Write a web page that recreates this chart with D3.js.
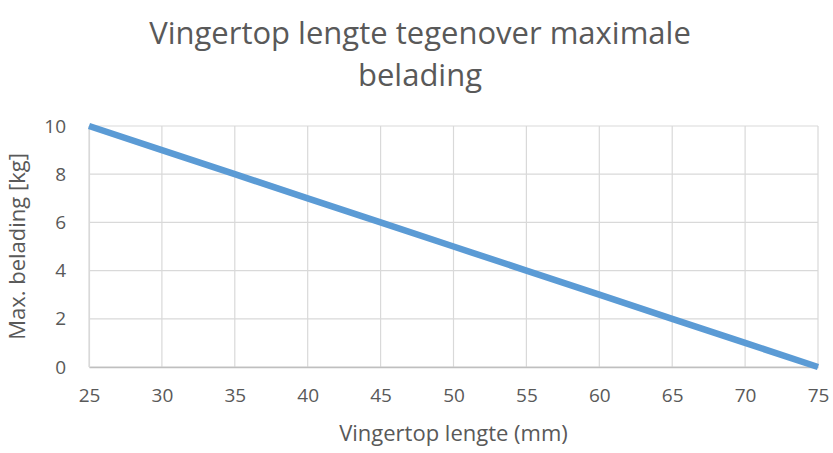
<!DOCTYPE html>
<html>
<head>
<meta charset="utf-8">
<script src="https://cdn.jsdelivr.net/npm/d3@7"></script>
<style>
  body { margin: 0; background: #fff; }
  text { font-family: "Open Sans", "Liberation Sans", sans-serif; fill: #595959; }
</style>
</head>
<body>
<svg id="chart" width="833" height="453"></svg>
<script>
// data
var lengths = [25, 30, 35, 40, 45, 50, 55, 60, 65, 70, 75];
var loads = [10, 9, 8, 7, 6, 5, 4, 3, 2, 1, 0];
var xTicks = [25, 30, 35, 40, 45, 50, 55, 60, 65, 70, 75];
var yTicks = [0, 2, 4, 6, 8, 10];

var data = lengths.map((d, i) => ({x: d, y: loads[i]}));

var svg = d3.select("#chart"),
  margin = {top: 126, right: 15, bottom: 86, left: 89},
  width = +svg.attr("width"),
  height = +svg.attr("height");

var x = d3.scaleLinear()
  .domain([25, 75])
  .range([margin.left, width - margin.right]);

var y = d3.scaleLinear()
  .domain([0, 10])
  .range([height - margin.bottom, margin.top]);

// title
svg.append("text")
  .attr("x", 420).attr("y", 44)
  .attr("text-anchor", "middle")
  .style("font-size", "31px")
  .text("Vingertop lengte tegenover maximale");
svg.append("text")
  .attr("x", 420).attr("y", 86)
  .attr("text-anchor", "middle")
  .style("font-size", "31px")
  .text("belading");

// gridlines
svg.append("g")
  .selectAll("line")
  .data(yTicks)
  .join("line")
  .attr("x1", x(25)).attr("x2", x(75))
  .attr("y1", d => y(d)).attr("y2", d => y(d))
  .attr("stroke", "#d9d9d9").attr("stroke-width", 1.2);

svg.append("g")
  .selectAll("line")
  .data(xTicks)
  .join("line")
  .attr("x1", d => x(d)).attr("x2", d => x(d))
  .attr("y1", y(0)).attr("y2", y(10))
  .attr("stroke", "#d9d9d9").attr("stroke-width", 1.2);

// axes
var xAxis = svg.append("g")
  .attr("transform", "translate(0," + y(0) + ")")
  .call(d3.axisBottom(x).tickValues(xTicks).tickSize(0).tickPadding(22));
xAxis.select(".domain").attr("stroke", "#bfbfbf").attr("stroke-width", 1.5);
xAxis.selectAll("text").style("font-size", "19px").attr("fill", "#595959");

var yAxis = svg.append("g")
  .attr("transform", "translate(" + x(25) + ",0)")
  .call(d3.axisLeft(y).tickValues(yTicks).tickSize(0).tickPadding(23));
yAxis.select(".domain").attr("stroke", "#d9d9d9").attr("stroke-width", 1.2);
yAxis.selectAll("text").style("font-size", "19px").attr("fill", "#595959");

// axis titles
svg.append("text")
  .attr("x", x(50)).attr("y", 441)
  .attr("text-anchor", "middle")
  .style("font-size", "22px")
  .text("Vingertop lengte (mm)");

svg.append("text")
  .attr("transform", "translate(25," + y(5) + ") rotate(-90)")
  .attr("text-anchor", "middle")
  .style("font-size", "22px")
  .text("Max. belading [kg]");

// line
svg.append("path")
  .datum(data)
  .attr("fill", "none")
  .attr("stroke", "#5b9bd5")
  .attr("stroke-width", 6.5)
  .attr("d", d3.line().x(d => x(d.x)).y(d => y(d.y)));
</script>
</body>
</html>
